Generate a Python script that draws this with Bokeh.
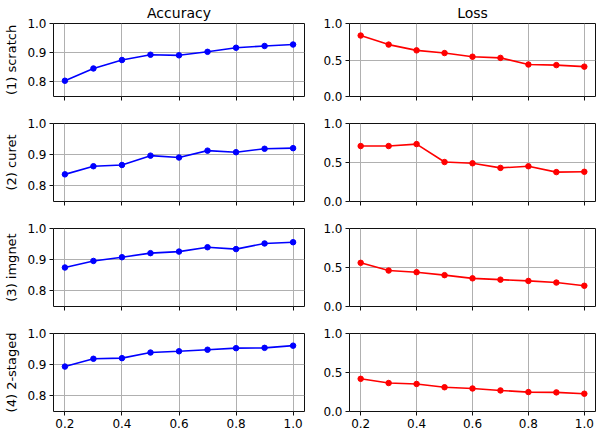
from bokeh.plotting import figure
from bokeh.models import Range1d, FixedTicker
from bokeh.layouts import column, row
from bokeh.embed import file_html
from bokeh.resources import INLINE

# ---- data ----
x_fraction = [0.2, 0.3, 0.4, 0.5, 0.6, 0.7, 0.8, 0.9, 1.0]
setups = ["scratch", "curet", "imgnet", "2-staged"]
setup_tags = ["(1)", "(2)", "(3)", "(4)"]

acc_scratch = [0.804, 0.846, 0.875, 0.893, 0.891, 0.903, 0.917, 0.923, 0.928]
acc_curet = [0.837, 0.863, 0.867, 0.897, 0.891, 0.913, 0.908, 0.919, 0.921]
acc_imgnet = [0.875, 0.896, 0.908, 0.921, 0.926, 0.940, 0.934, 0.952, 0.956]
acc_2staged = [0.894, 0.919, 0.921, 0.939, 0.943, 0.948, 0.953, 0.954, 0.961]

loss_scratch = [0.835, 0.711, 0.632, 0.595, 0.545, 0.529, 0.438, 0.430, 0.409]
loss_curet = [0.711, 0.711, 0.736, 0.506, 0.490, 0.431, 0.452, 0.377, 0.381]
loss_imgnet = [0.560, 0.461, 0.440, 0.402, 0.361, 0.344, 0.328, 0.307, 0.266]
loss_2staged = [0.419, 0.365, 0.353, 0.311, 0.295, 0.270, 0.249, 0.245, 0.228]

accuracy = [acc_scratch, acc_curet, acc_imgnet, acc_2staged]
loss = [loss_scratch, loss_curet, loss_imgnet, loss_2staged]

x_ticks = [0.2, 0.4, 0.6, 0.8, 1.0]
x_tick_labels = {0.2: "0.2", 0.4: "0.4", 0.6: "0.6", 0.8: "0.8", 1.0: "1.0"}
acc_ticks = [0.8, 0.9, 1.0]
acc_tick_labels = {0.8: "0.8", 0.9: "0.9", 1.0: "1.0"}
loss_ticks = [0.0, 0.5, 1.0]
loss_tick_labels = {0.0: "0.0", 0.5: "0.5", 1.0: "1.0"}
col_titles = ["Accuracy", "Loss"]

# ---- layout constants ----
FONT = "DejaVu Sans"
FRAME_H = 78
X_LO, X_HI = 0.16, 1.04


def borders(r):
    bt = 18
    bb = 21 if r == 3 else 9
    return bt, bb


def make_fig(col, r, ys, color):
    last = r == 3
    lo, hi = (0.75, 1.0) if col == 0 else (0.0, 1.0)
    if col == 0:
        width, bl, br = 306, 53, 2
    else:
        width, bl, br = 292, 43, 3
    bt, bb = borders(r)
    p = figure(width=width, height=bt + FRAME_H + bb,
               x_range=Range1d(X_LO, X_HI), y_range=Range1d(lo, hi),
               toolbar_location=None, output_backend="svg",
               min_border_left=bl, min_border_right=br,
               min_border_top=bt, min_border_bottom=bb)
    p.background_fill_color = "white"
    p.border_fill_color = "white"
    p.outline_line_color = "#111111"
    p.outline_line_width = 1
    p.outline_line_alpha = 1

    for ax in (p.xaxis[0], p.yaxis[0]):
        ax.axis_line_color = None
        ax.major_tick_in = 0
        ax.major_tick_out = 4
        ax.major_tick_line_color = "#111111"
        ax.major_tick_line_width = 1
        ax.minor_tick_line_color = None
        ax.major_label_text_font = FONT
        ax.major_label_text_font_size = "12px"
        ax.major_label_text_color = "black"
        ax.major_label_standoff = 3

    p.xaxis.ticker = FixedTicker(ticks=x_ticks)
    p.xaxis.major_label_overrides = x_tick_labels
    if not last:
        p.xaxis.major_label_text_font_size = "1px"
        p.xaxis.major_label_text_color = None
        p.xaxis.major_label_text_alpha = 0
        p.xaxis.major_label_standoff = 0
    p.yaxis.ticker = FixedTicker(ticks=acc_ticks if col == 0 else loss_ticks)
    p.yaxis.major_label_overrides = acc_tick_labels if col == 0 else loss_tick_labels

    if col == 0:
        p.yaxis.axis_label = setup_tags[r] + " " + setups[r]
        p.yaxis.axis_label_text_font = FONT
        p.yaxis.axis_label_text_font_size = "13px"
        p.yaxis.axis_label_text_font_style = "normal"
        p.yaxis.axis_label_text_color = "black"
        p.yaxis.axis_label_standoff = 5

    for g in (p.xgrid[0], p.ygrid[0]):
        g.grid_line_color = "#b0b0b0"
        g.grid_line_width = 1
    p.xgrid.ticker = FixedTicker(ticks=x_ticks)
    p.ygrid.ticker = FixedTicker(ticks=acc_ticks if col == 0 else loss_ticks)

    p.line(x_fraction, ys, line_color=color, line_width=1.6)
    p.scatter(x_fraction, ys, size=5.5, fill_color=color, line_color=color)

    if r == 0:
        p.title.text = col_titles[col]
        p.title.align = "center"
        p.title.text_font = FONT
        p.title.text_font_size = "14px"
        p.title.text_font_style = "normal"
        p.title.text_color = "black"
        p.title.standoff = 5
    return p


rows = []
for r in range(4):
    pa = make_fig(0, r, accuracy[r], "blue")
    pl = make_fig(1, r, loss[r], "red")
    rows.append(row(pa, pl))

layout = column(*rows)
open("out.html", "w").write(file_html(layout, INLINE))
